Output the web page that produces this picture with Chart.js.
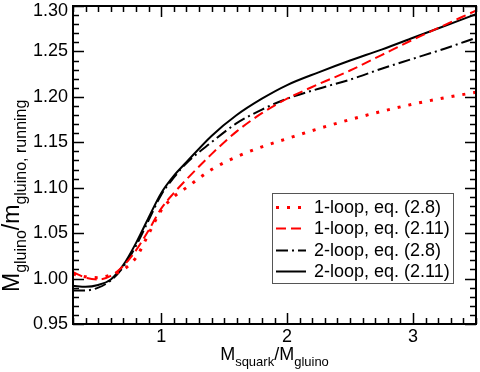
<!DOCTYPE html>
<html><head><meta charset="utf-8">
<script src="https://cdn.jsdelivr.net/npm/chart.js@4.4.0/dist/chart.umd.min.js"></script>
<style>html,body{margin:0;padding:0;background:#fff;overflow:hidden}canvas{display:block}</style>
</head><body>
<canvas id="c" width="480" height="372"></canvas>
<script>
// ---- data ----
const massRatio   = [0.3, 0.4, 0.5, 0.6, 0.7, 0.8, 0.9, 1.0, 1.1, 1.2, 1.4, 1.6, 1.8, 2.0, 2.25, 2.5, 2.75, 3.0, 3.25, 3.5];
const oneLoopEq28  = [1.005, 1.002, 1.001, 1.004, 1.010, 1.023, 1.049, 1.075, 1.090, 1.100, 1.120, 1.134, 1.145, 1.154, 1.165, 1.175, 1.184, 1.192, 1.199, 1.205];
const oneLoopEq211 = [1.007, 1.001, 0.999, 1.003, 1.014, 1.031, 1.053, 1.077, 1.094, 1.109, 1.137, 1.162, 1.182, 1.198, 1.214, 1.229, 1.246, 1.263, 1.279, 1.295];
const twoLoopEq28  = [0.987, 0.987, 0.990, 0.998, 1.013, 1.036, 1.064, 1.092, 1.111, 1.127, 1.150, 1.171, 1.186, 1.198, 1.209, 1.219, 1.231, 1.242, 1.253, 1.265];
const twoLoopEq211 = [0.992, 0.991, 0.993, 0.999, 1.015, 1.039, 1.067, 1.094, 1.113, 1.128, 1.157, 1.180, 1.198, 1.213, 1.227, 1.240, 1.252, 1.265, 1.278, 1.291];
const seriesLabels = ['1-loop, eq. (2.8)', '1-loop, eq. (2.11)', '2-loop, eq. (2.8)', '2-loop, eq. (2.11)'];
const xTickLabels = ['1', '2', '3'];
const yTickLabels = ['0.95', '1.00', '1.05', '1.10', '1.15', '1.20', '1.25', '1.30'];
const xTitleParts = [['M', 0], ['squark', 1], ['/M', 0], ['gluino', 1]];
const yTitleParts = [['M', 0], ['gluino', 1], ['/m', 0], ['gluino, running', 1]];

const FONT = '"Liberation Sans", Arial, Helvetica, sans-serif';
Chart.defaults.font.family = FONT;
Chart.defaults.color = '#000';

function pts(ys) { return massRatio.map((x, i) => ({ x: x, y: ys[i] })); }

const datasets = [
  { label: seriesLabels[0], data: pts(oneLoopEq28),  borderColor: '#ff0000', borderWidth: 3, borderDash: [3, 8] },
  { label: seriesLabels[1], data: pts(oneLoopEq211), borderColor: '#ff0000', borderWidth: 2, borderDash: [10, 5] },
  { label: seriesLabels[2], data: pts(twoLoopEq28),  borderColor: '#000000', borderWidth: 2, borderDash: [12, 4, 2, 4] },
  { label: seriesLabels[3], data: pts(twoLoopEq211), borderColor: '#000000', borderWidth: 2, borderDash: [] }
].map(d => Object.assign(d, { pointRadius: 0, fill: false, cubicInterpolationMode: 'monotone', borderCapStyle: 'butt' }));

function drawParts(ctx, parts, mainPx, subPx, subShift) {
  let x = 0;
  for (const [t, sub] of parts) {
    ctx.font = (sub ? subPx : mainPx) + 'px ' + FONT;
    ctx.fillText(t, x, sub ? subShift : 0);
    x += ctx.measureText(t).width;
  }
  return x;
}
function partsWidth(ctx, parts, mainPx, subPx) {
  let w = 0;
  for (const [t, sub] of parts) { ctx.font = (sub ? subPx : mainPx) + 'px ' + FONT; w += ctx.measureText(t).width; }
  return w;
}

const decor = {
  id: 'decor',
  afterDraw(chart) {
    const { ctx, chartArea: a, scales: { x, y } } = chart;
    ctx.save();
    ctx.strokeStyle = '#000';
    ctx.lineWidth = 1.5;
    ctx.beginPath();
    for (let k = 3; k <= 35; k++) {
      const px = Math.round(x.getPixelForValue(k / 10)) + 0.5;
      const len = (k % 10 === 0) ? 11 : 6;
      ctx.moveTo(px, a.bottom); ctx.lineTo(px, a.bottom - len);
      ctx.moveTo(px, a.top); ctx.lineTo(px, a.top + len);
    }
    for (let k = 95; k <= 130; k++) {
      const py = Math.round(y.getPixelForValue(k / 100)) + 0.5;
      const len = (k % 5 === 0) ? 11 : 6;
      ctx.moveTo(a.left, py); ctx.lineTo(a.left + len, py);
      ctx.moveTo(a.right, py); ctx.lineTo(a.right - len, py);
    }
    ctx.stroke();
    ctx.lineWidth = 2;
    ctx.strokeRect(a.left, a.top, a.right - a.left, a.bottom - a.top);

    ctx.fillStyle = '#000';
    // y tick labels (kept inside the canvas at the top)
    ctx.font = '18px ' + FONT;
    ctx.textAlign = 'right';
    ctx.textBaseline = 'middle';
    yTickLabels.forEach(t => {
      const py = y.getPixelForValue(parseFloat(t));
      ctx.fillText(t, a.left - 5, Math.max(py, 11));
    });

    // axis titles
    ctx.textBaseline = 'alphabetic';
    ctx.textAlign = 'left';
    const xw = partsWidth(ctx, xTitleParts, 18, 13);
    ctx.save();
    ctx.translate((a.left + a.right) / 2 - xw / 2, 360);
    drawParts(ctx, xTitleParts, 18, 13, 6);
    ctx.restore();
    ctx.save();
    ctx.translate(19, 292);
    ctx.rotate(-Math.PI / 2);
    drawParts(ctx, yTitleParts, 23, 16, 7);
    ctx.restore();

    // legend
    const L = 272, T = 193, R = 453, B = 283;
    ctx.fillStyle = '#fff';
    ctx.fillRect(L, T, R - L, B - T);
    ctx.strokeStyle = '#555';
    ctx.lineWidth = 1;
    ctx.strokeRect(L + 0.5, T + 0.5, R - L, B - T);
    const rows = [207, 228, 250, 271];
    chart.data.datasets.forEach((ds, i) => {
      const yy = rows[i] + 0.5;
      ctx.save();
      ctx.strokeStyle = ds.borderColor;
      ctx.lineWidth = ds.borderWidth;
      ctx.setLineDash(ds.borderDash || []);
      ctx.lineCap = 'butt';
      ctx.beginPath();
      ctx.moveTo(276, yy); ctx.lineTo(306, yy);
      ctx.stroke();
      ctx.restore();
      ctx.fillStyle = '#000';
      ctx.font = '18px ' + FONT;
      ctx.textBaseline = 'middle';
      ctx.fillText(ds.label, 314, rows[i] + 1);
    });
    ctx.restore();
  }
};

new Chart(document.getElementById('c'), {
  type: 'line',
  data: { datasets: datasets },
  plugins: [decor],
  options: {
    responsive: false,
    animation: false,
    layout: { padding: { left: 0, top: 6, right: 4, bottom: 0 } },
    plugins: { legend: { display: false }, tooltip: { enabled: false } },
    scales: {
      x: {
        type: 'linear', min: 0.3, max: 3.5,
        afterBuildTicks: s => { s.ticks = xTickLabels.map(v => ({ value: parseFloat(v) })); },
        ticks: { font: { size: 18 }, color: '#000', padding: 2, maxRotation: 0, autoSkip: false, callback: v => String(v) },
        grid: { display: false, drawTicks: false }, border: { display: false },
        afterFit: s => { s.height = 48; s.paddingLeft = 0; s.paddingRight = 0; }
      },
      y: {
        type: 'linear', min: 0.95, max: 1.30,
        afterBuildTicks: s => { s.ticks = yTickLabels.map(v => ({ value: parseFloat(v) })); },
        ticks: { display: false },
        grid: { display: false, drawTicks: false }, border: { display: false },
        afterFit: s => { s.width = 73; s.paddingTop = 0; s.paddingBottom = 0; }
      }
    }
  }
});
</script>
</body></html>
